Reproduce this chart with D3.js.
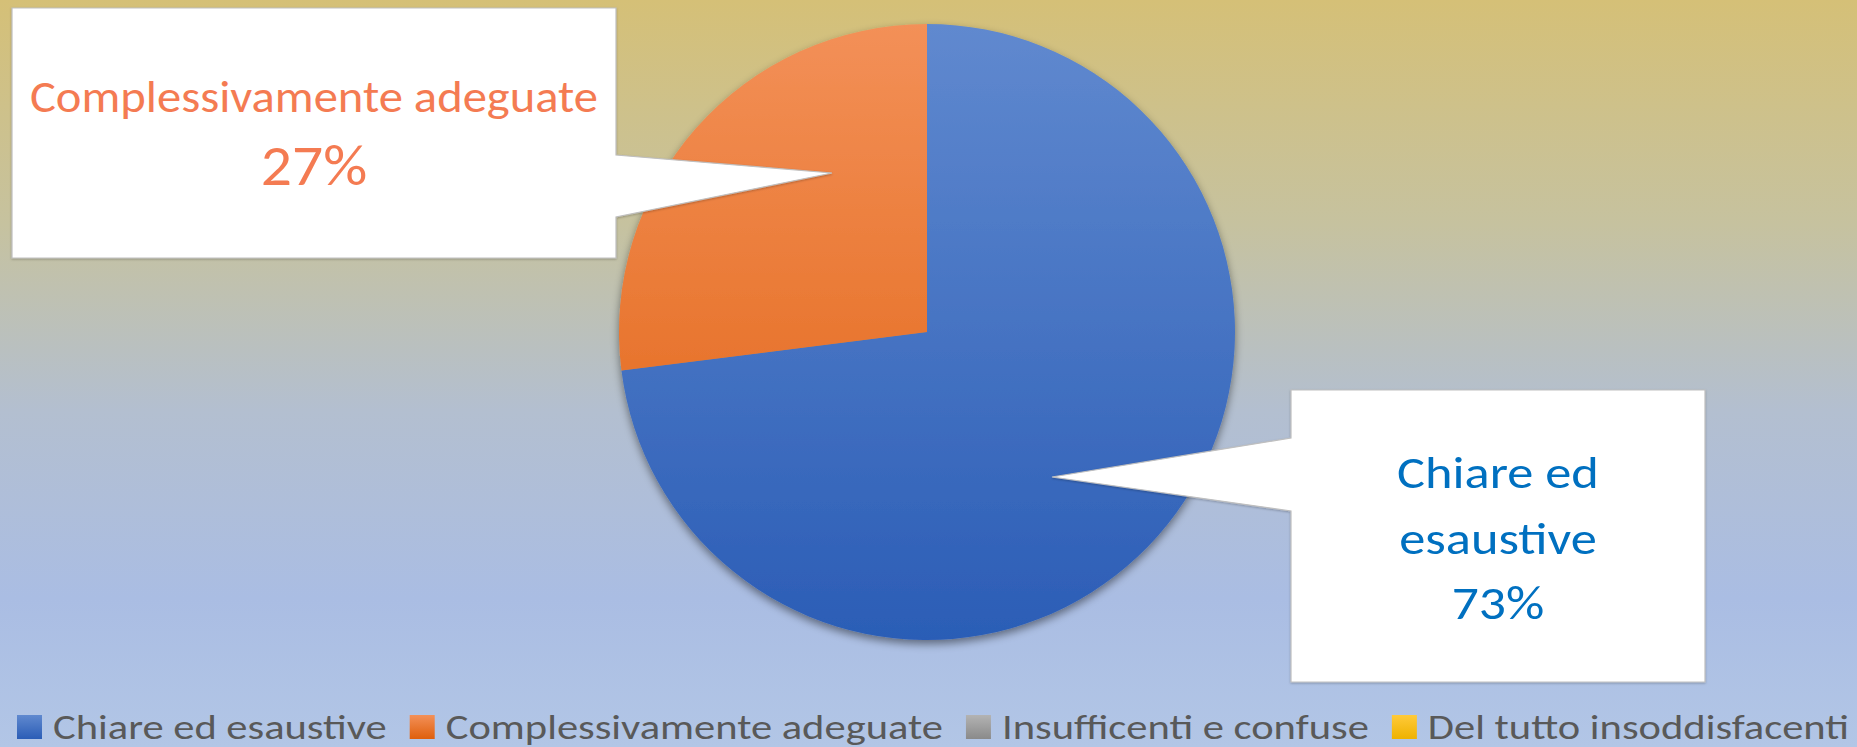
<!DOCTYPE html>
<html>
<head>
<meta charset="utf-8">
<script src="https://cdn.jsdelivr.net/npm/d3@7"></script>
<style>
  html, body { margin: 0; padding: 0; overflow: hidden; }
  svg { display: block; }
</style>
</head>
<body>
<div id="chart"></div>
<script>
// data
var categories = ["Chiare ed esaustive", "Complessivamente adeguate", "Insufficenti e confuse", "Del tutto insoddisfacenti"];
var values = [73, 27, 0, 0];
var labelLines = [["Chiare ed", "esaustive"], ["Complessivamente adeguate"], [], []];

var svgWidth = 1857;
var svgHeight = 747;

var font = "Carlito, Calibri, Lato, 'Open Sans', sans-serif";

// slice colours: [top, bottom] of the vertical gradient
var sliceColors = [["#6089cf", "#2b5db6"], ["#f39058", "#df5f0c"], ["#b3b3b3", "#8a8a8a"], ["#ffca3a", "#eeb200"]];
var labelColors = ["#0070c0", "#f47b52"];

var svg = d3.select("#chart")
  .append("svg")
  .attr("width", svgWidth)
  .attr("height", svgHeight);

var defs = svg.append("defs");

// background gradient
var bg = defs.append("linearGradient")
  .attr("id", "bg")
  .attr("x1", 0).attr("y1", 0).attr("x2", 0).attr("y2", 1);
bg.append("stop").attr("offset", "0%").attr("stop-color", "#d5c077");
bg.append("stop").attr("offset", "30%").attr("stop-color", "#c6c29f");
bg.append("stop").attr("offset", "55%").attr("stop-color", "#b3bfd0");
bg.append("stop").attr("offset", "80%").attr("stop-color", "#aabde3");
bg.append("stop").attr("offset", "100%").attr("stop-color", "#b2c6e6");

svg.append("rect")
  .attr("width", svgWidth)
  .attr("height", svgHeight)
  .attr("fill", "url(#bg)");

// pie geometry
var cx = 927, cy = 332, radius = 308;

sliceColors.forEach(function(c, i) {
  var g = defs.append("linearGradient")
    .attr("id", "slice" + i)
    .attr("gradientUnits", "userSpaceOnUse")
    .attr("x1", 0).attr("y1", -radius).attr("x2", 0).attr("y2", radius);
  g.append("stop").attr("offset", "0%").attr("stop-color", c[0]);
  g.append("stop").attr("offset", "100%").attr("stop-color", c[1]);

  var s = defs.append("linearGradient")
    .attr("id", "swatch" + i)
    .attr("x1", 0).attr("y1", 0).attr("x2", 0).attr("y2", 1);
  s.append("stop").attr("offset", "0%").attr("stop-color", c[0]);
  s.append("stop").attr("offset", "100%").attr("stop-color", c[1]);
});

var shadow = defs.append("filter")
  .attr("id", "shadow")
  .attr("x", "-20%").attr("y", "-20%").attr("width", "140%").attr("height", "140%");
shadow.append("feDropShadow")
  .attr("dx", 0).attr("dy", 4)
  .attr("stdDeviation", 4)
  .attr("flood-color", "#000")
  .attr("flood-opacity", 0.45);

var calloutShadow = defs.append("filter")
  .attr("id", "cshadow")
  .attr("x", "-10%").attr("y", "-10%").attr("width", "120%").attr("height", "120%");
calloutShadow.append("feDropShadow")
  .attr("dx", 0).attr("dy", 1)
  .attr("stdDeviation", 1)
  .attr("flood-color", "#000")
  .attr("flood-opacity", 0.25);

var pie = d3.pie()
  .sort(null)
  .value(d => d);

var arc = d3.arc()
  .innerRadius(0)
  .outerRadius(radius);

var pieData = pie(values);

var pieGroup = svg.append("g")
  .attr("transform", `translate(${cx}, ${cy})`)
  .attr("filter", "url(#shadow)");

pieGroup.selectAll("path")
  .data(pieData.filter(d => d.value > 0))
  .enter()
  .append("path")
  .attr("d", arc)
  .attr("fill", d => `url(#slice${d.index})`);

// the reference font is wider than Lato for the same cap height,
// so text gets stretched horizontally a bit
function stretch(sel, k) {
  var w = sel.node().getComputedTextLength();
  sel.attr("textLength", w * k).attr("lengthAdjust", "spacingAndGlyphs");
}

// callouts (white boxes with a pointer into the slice)
var callouts = [
  { box: [1291, 390, 1705, 682], side: "left", base: [438, 511], tip: [1052, 477],
    lines: [{ t: labelLines[0][0], size: 46 }, { t: labelLines[0][1], size: 46 }, { t: values[0] + "%", size: 47 }],
    baselines: [488, 554, 619], k: 1.14 },
  { box: [12, 8, 616, 258], side: "right", base: [155, 217], tip: [832, 173],
    lines: [{ t: labelLines[1][0], size: 45 }, { t: values[1] + "%", size: 57 }],
    baselines: [112, 185], k: 1.08 }
];

callouts.forEach(function(c, i) {
  var b = c.box, p;
  if (c.side === "left") {
    p = `M${b[0]},${b[1]} H${b[2]} V${b[3]} H${b[0]} V${c.base[1]} L${c.tip[0]},${c.tip[1]} L${b[0]},${c.base[0]} Z`;
  } else {
    p = `M${b[0]},${b[1]} H${b[2]} V${c.base[0]} L${c.tip[0]},${c.tip[1]} L${b[2]},${c.base[1]} V${b[3]} H${b[0]} Z`;
  }
  svg.append("path")
    .attr("d", p)
    .attr("fill", "#ffffff")
    .attr("stroke", "#bfbfbf")
    .attr("stroke-width", 1.2)
    .attr("filter", "url(#cshadow)");

  var mid = (b[0] + b[2]) / 2;
  c.lines.forEach(function(l, j) {
    var t = svg.append("text")
      .attr("x", mid)
      .attr("y", c.baselines[j])
      .attr("text-anchor", "middle")
      .attr("font-family", font)
      .attr("font-size", l.size)
      .attr("fill", labelColors[i])
      .text(l.t);
    stretch(t, c.k);
  });
});

// legend: spread across the bottom from x=17 to x=1849
var legendY = 739;
var swatch = 25;
var gapIn = 11, gapOut = 23;
var legendLeft = 17, legendRight = 1849;
var legend = svg.append("g");

var texts = categories.map(function(name) {
  return legend.append("text")
    .attr("y", legendY)
    .attr("font-family", font)
    .attr("font-size", 35)
    .attr("fill", "#595959")
    .text(name);
});
var natural = texts.map(t => t.node().getComputedTextLength());
var fixed = categories.length * (swatch + gapIn) + (categories.length - 1) * gapOut;
var k = (legendRight - legendLeft - fixed) / d3.sum(natural);

var x = legendLeft;
categories.forEach(function(name, i) {
  legend.append("rect")
    .attr("x", x)
    .attr("y", legendY - 24)
    .attr("width", swatch)
    .attr("height", swatch - 1)
    .attr("fill", `url(#swatch${i})`);
  var w = natural[i] * k;
  texts[i]
    .attr("x", x + swatch + gapIn)
    .attr("textLength", w)
    .attr("lengthAdjust", "spacingAndGlyphs");
  x += swatch + gapIn + w + gapOut;
});
</script>
</body>
</html>
